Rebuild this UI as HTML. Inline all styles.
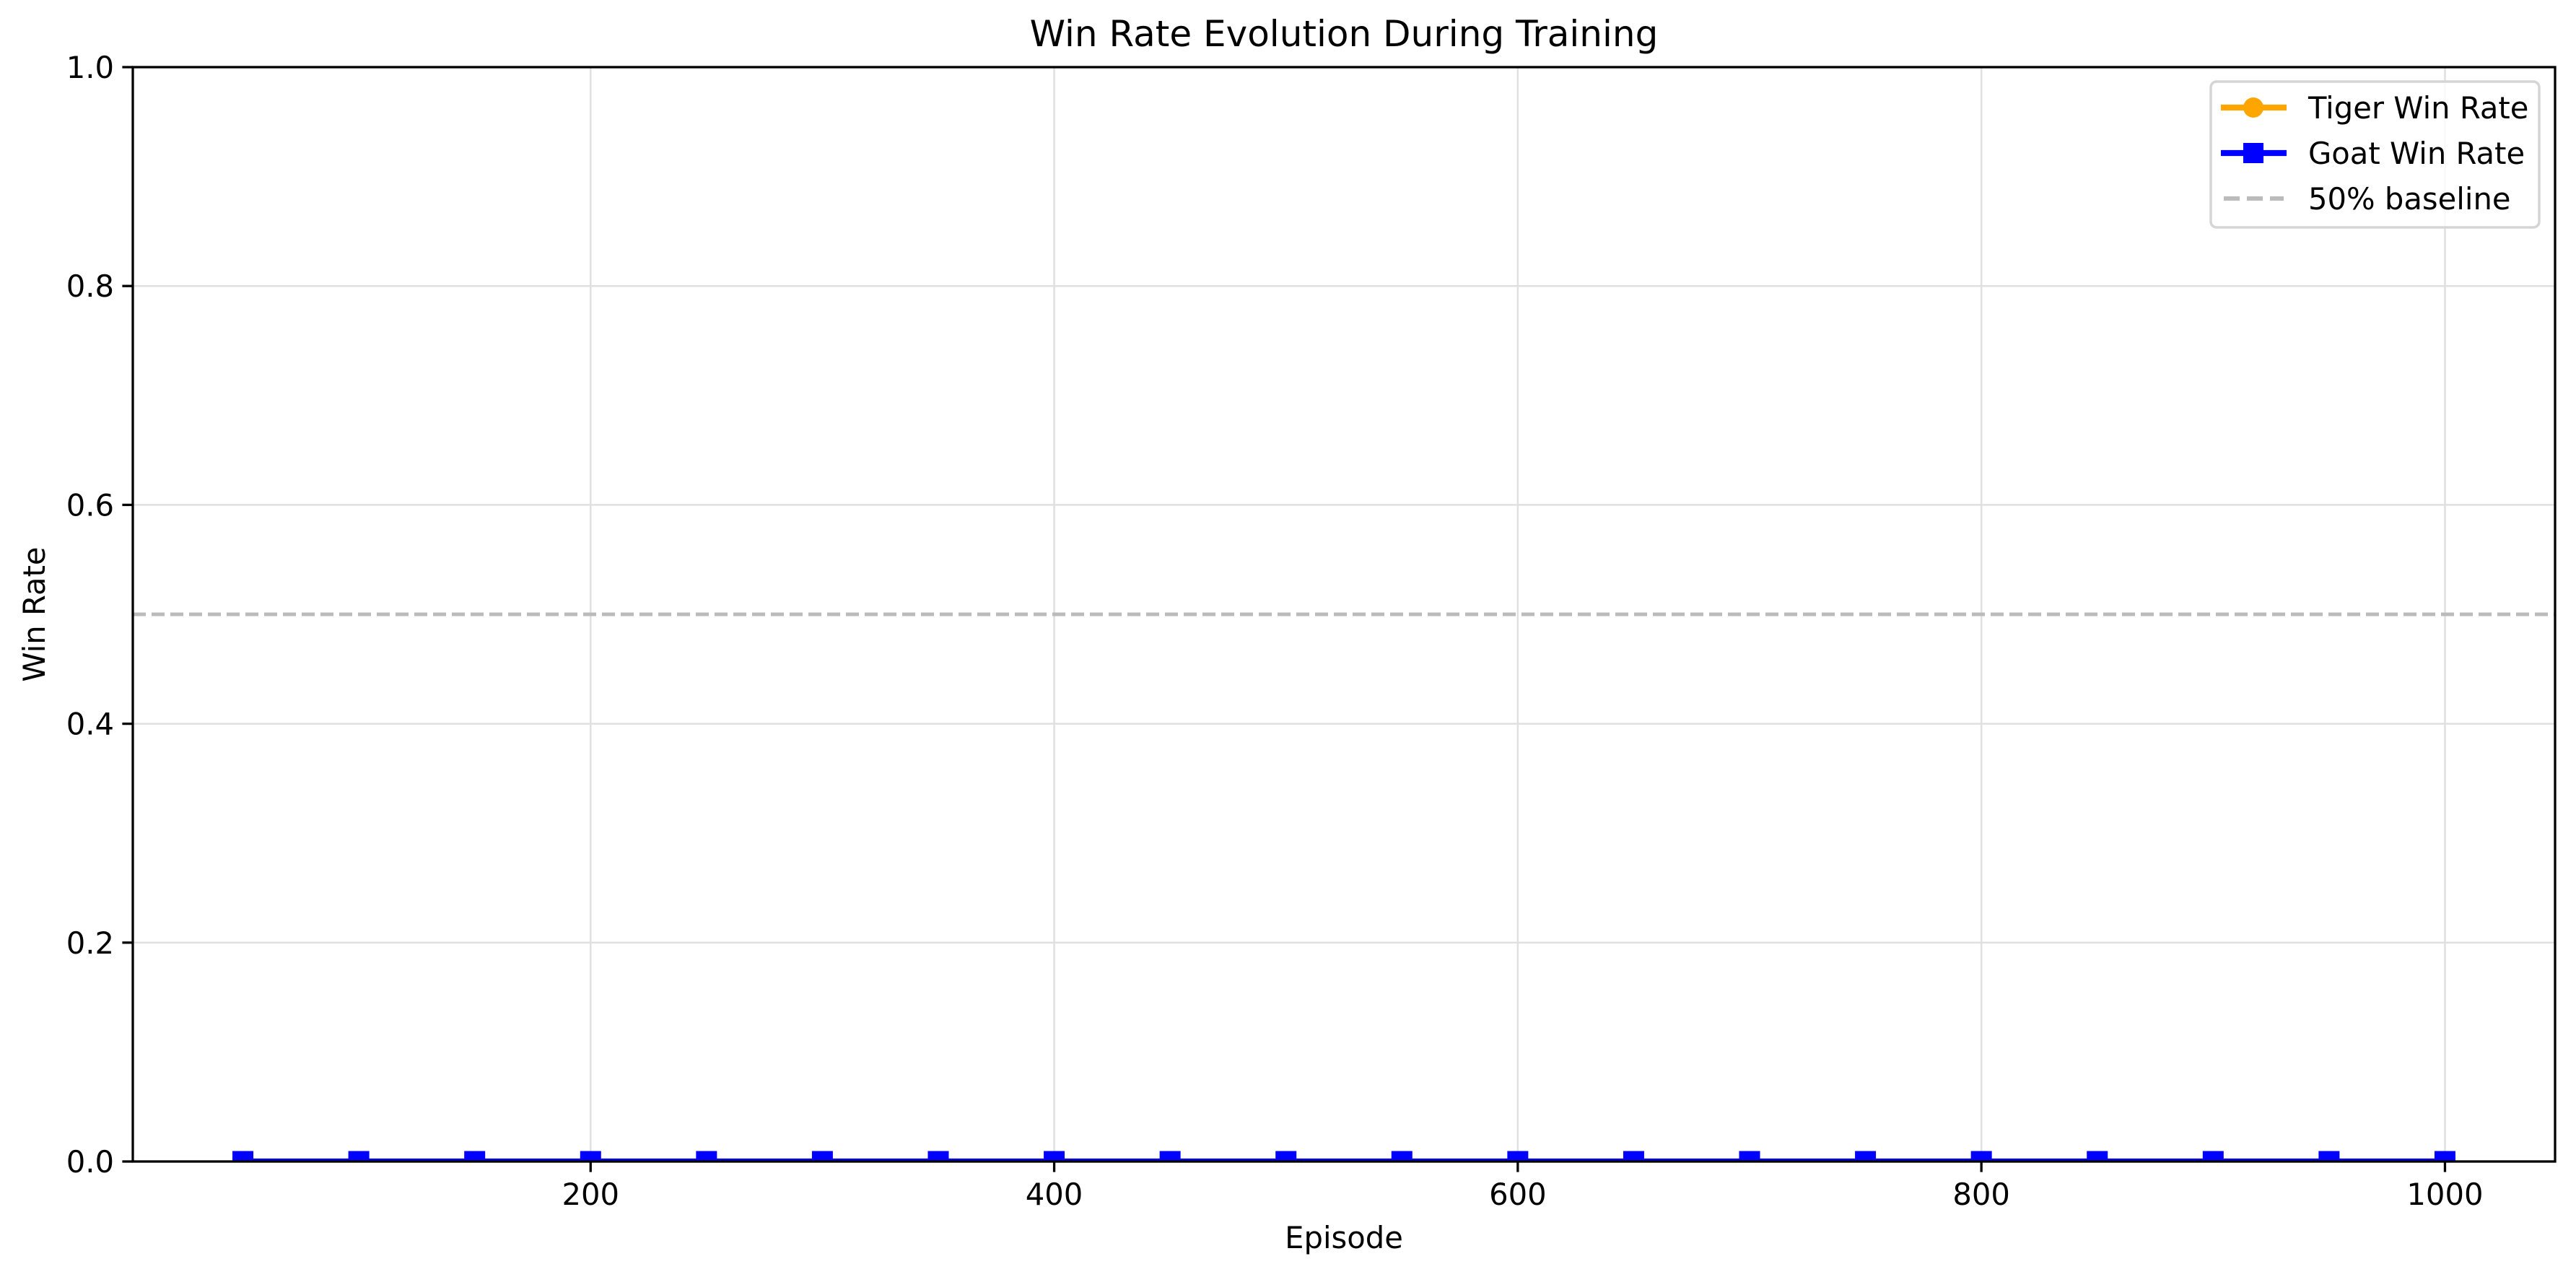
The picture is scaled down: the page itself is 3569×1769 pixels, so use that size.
<!DOCTYPE html>
<html><head><meta charset="utf-8"><style>
html,body{margin:0;padding:0;background:#fff;}
svg{display:block;font-family:"DejaVu Sans","Liberation Sans",sans-serif;}
</style></head><body>
<svg id="chart" width="3569" height="1769" viewBox="0 0 3569 1769" xmlns="http://www.w3.org/2000/svg">
<rect width="3569" height="1769" fill="#fff"/>
<text x="1862" y="64" text-anchor="middle" font-size="50">Win Rate Evolution During Training</text>
<g id="grid"></g>
<g id="series"></g>
<g id="axes"></g>
<text x="1862" y="1729" text-anchor="middle" font-size="41.7">Episode</text>
<text transform="translate(62,851) rotate(-90)" text-anchor="middle" font-size="41.7">Win Rate</text>
<g>
<rect x="3063" y="113" width="455" height="202" rx="8" fill="#fff" fill-opacity="0.8" stroke="#d5d5d5" stroke-width="3.5"/>
<g>
<line x1="3077" y1="149" x2="3168" y2="149" stroke="#FFA500" stroke-width="8.3"/>
<circle cx="3122" cy="149" r="14" fill="#FFA500"/>
<text x="3198" y="164" font-size="41.7">Tiger Win Rate</text></g>
<g>
<line x1="3077" y1="212" x2="3168" y2="212" stroke="#0000FF" stroke-width="8.3"/>
<rect x="3108" y="198" width="28" height="28" fill="#0000FF"/>
<text x="3198" y="227" font-size="41.7">Goat Win Rate</text></g>
<g>
<line x1="3081" y1="275" x2="3164" y2="275" stroke="#bbbbbb" stroke-width="6" stroke-dasharray="22,10"/>
<text x="3198" y="290" font-size="41.7">50% baseline</text></g>
</g>
</svg>
<script>
const episodes = [50,100,150,200,250,300,350,400,450,500,550,600,650,700,750,800,850,900,950,1000];
const tigerRates = [0,0,0,0,0,0,0,0,0,0,0,0,0,0,0,0,0,0,0,0];
const goatRates = [0,0,0,0,0,0,0,0,0,0,0,0,0,0,0,0,0,0,0,0];
const baselineValue = 0.5;
const xTicks = [200,400,600,800,1000];
const yTicks = [0.0,0.2,0.4,0.6,0.8,1.0];

const L=184,R=3540,T=93,B=1609;
const xMin=2.5,xMax=1047.5,yMin=0,yMax=1;
const sx=v=>L+(v-xMin)/(xMax-xMin)*(R-L);
const sy=v=>B-(v-yMin)/(yMax-yMin)*(B-T);
const NS="http://www.w3.org/2000/svg";
function mk(tag,attrs,parent){const e=document.createElementNS(NS,tag);for(const k in attrs)e.setAttribute(k,attrs[k]);parent.appendChild(e);return e;}
const svg=document.getElementById('chart');
const grid=document.getElementById('grid'),series=document.getElementById('series'),axes=document.getElementById('axes');
// clip
const defs=mk('defs',{},svg);
const cp=mk('clipPath',{id:'plotclip'},defs);
mk('rect',{x:L,y:T,width:R-L,height:B-T},cp);
series.setAttribute('clip-path','url(#plotclip)');

xTicks.forEach(t=>{
  const g=mk('line',{x1:sx(t),x2:sx(t),y1:T,y2:B,stroke:'#e0e0e0','stroke-width':2.5},grid);
  
  
  const tk=mk('line',{x1:sx(t),x2:sx(t),y1:B,y2:B+14.6,stroke:'#000','stroke-width':3.3},axes);
  
  
  const lb=mk('text',{x:sx(t),y:B+60,'text-anchor':'middle','font-size':41.7},axes);
  lb.textContent=String(t);
  
  
});
yTicks.forEach(t=>{
  const g=mk('line',{x1:L,x2:R,y1:sy(t),y2:sy(t),stroke:'#e0e0e0','stroke-width':2.5},grid);
  
  
  const tk=mk('line',{x1:L-14.6,x2:L,y1:sy(t),y2:sy(t),stroke:'#000','stroke-width':3.3},axes);
  
  
  const lb=mk('text',{x:L-26,y:sy(t)+15,'text-anchor':'end','font-size':41.7},axes);
  lb.textContent=t.toFixed(1);
  
  
});
// baseline
const bl=mk('line',{x1:L,x2:R,y1:sy(baselineValue),y2:sy(baselineValue),stroke:'#bbbbbb','stroke-width':5,'stroke-dasharray':'18,8'},series);


// tiger
const tp=mk('polyline',{points:episodes.map((e,i)=>sx(e)+','+sy(tigerRates[i])).join(' '),fill:'none',stroke:'#FFA500','stroke-width':8.3},series);


episodes.forEach((e,i)=>{
  const c=mk('circle',{cx:sx(e),cy:sy(tigerRates[i]),r:14,fill:'#FFA500'},series);
  
  
});
// goat
const gp=mk('polyline',{points:episodes.map((e,i)=>sx(e)+','+sy(goatRates[i])).join(' '),fill:'none',stroke:'#0000FF','stroke-width':8.3},series);


episodes.forEach((e,i)=>{
  const r=mk('rect',{x:sx(e)-14.5,y:sy(goatRates[i])-14.5,width:29,height:29,fill:'#0000FF'},series);
  
  
});
// frame
const fr=mk('rect',{x:L,y:T,width:R-L,height:B-T,fill:'none',stroke:'#000','stroke-width':3.3},axes);


</script>
</body></html>
